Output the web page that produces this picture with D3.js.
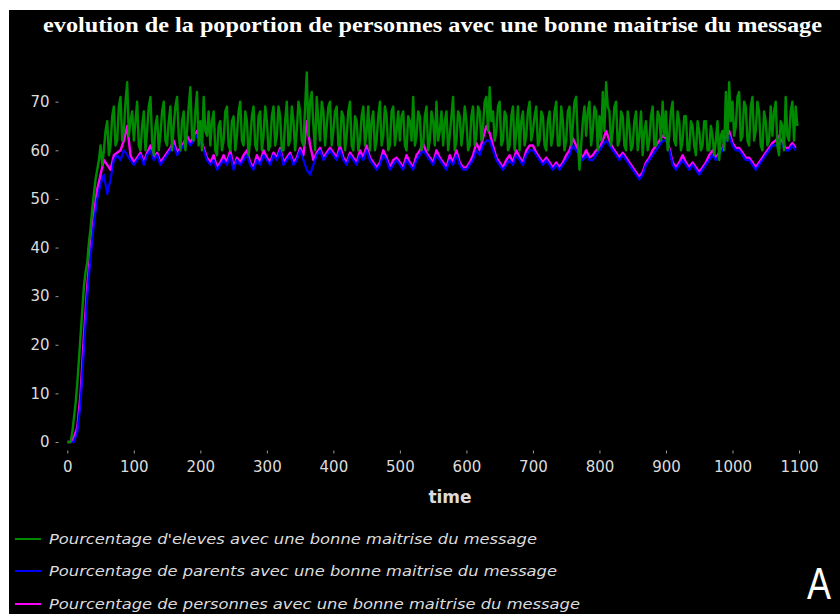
<!DOCTYPE html>
<html>
<head>
<meta charset="utf-8">
<script src="https://cdn.jsdelivr.net/npm/d3@7"></script>
<style>
  html, body { margin: 0; padding: 0; background: #ffffff; }
  svg { display: block; }
</style>
</head>
<body>
<script>
// ---------- DATA ----------
const title = "evolution de la poportion de personnes avec une bonne maitrise du message";
const xLabel = "time";
const xTicks = [0, 100, 200, 300, 400, 500, 600, 700, 800, 900, 1000, 1100];
const yTicks = [0, 10, 20, 30, 40, 50, 60, 70];
const seriesNames = [
  "Pourcentage d'eleves avec une bonne maitrise du message",
  "Pourcentage de parents avec une bonne maitrise du message",
  "Pourcentage de personnes avec une bonne maitrise du message"
];
const seriesColors = ["#008a00", "#0000ff", "#ff00ff"];
const timeStep = 5; // samples at t = 0, 5, 10, ... 1095

// students: values at t = 0, 5, 10, ...
const eleves = [
  0,0,5,12,22,32,37,44,51,56,61,60,66,61,69,62,71,64,74,66,
  62,70,60,68,64,71,59,67,63,70,61,69,65,71,60,68,64,73,62,72,
  66,71,63,61,68,59,66,62,69,60,67,63,70,61,66,62,69,60,68,63,
  66,61,69,63,67,60,70,62,66,64,68,61,76,70,65,71,62,68,65,70,
  64,69,61,67,63,70,60,66,62,69,64,60,68,62,70,63,67,61,69,64,
  62,68,60,66,71,63,67,61,69,62,66,70,64,61,68,63,71,62,67,64,
  66,61,69,63,68,65,71,73,68,64,70,62,67,61,69,64,60,68,63,70,
  64,69,62,67,60,68,63,70,61,66,62,69,65,71,56,66,63,70,64,68,
  67,72,74,68,64,70,62,67,60,65,61,68,63,59,66,62,69,61,67,70,
  68,63,70,61,66,62,67,60,65,59,64,61,66,60,63,62,58,64,72,74,
  70,65,72,63,69,61,71,64,68,60,66,62,63,70,59,65,71,62,70,69
];
// students: values at t = 2.5, 7.5, 12.5, ...
const elevesMid = [
  0,2,8,17,27,35,41,48,54,58,57,64,59,67,61,69,62,70,63,68,
  66,61,65,60,69,62,65,60,68,62,66,60,69,63,66,60,69,63,68,61,
  60,64,68,66,60,65,60,68,61,66,60,68,62,68,59,67,61,67,60,69,
  60,67,61,69,60,66,61,69,60,70,62,69,63,72,60,66,70,61,69,61,
  68,61,68,60,68,61,67,60,67,61,69,66,60,67,61,69,60,68,61,68,
  67,61,67,62,61,68,60,67,60,68,61,62,68,66,60,67,60,68,61,69,
  60,67,61,69,62,70,64,66,62,69,61,68,60,67,60,69,66,61,68,62,
  67,61,68,61,66,61,68,61,69,60,68,61,70,62,61,69,68,61,69,60,
  62,64,69,61,69,61,68,61,68,60,66,60,68,64,60,67,61,68,62,63,
  60,68,62,68,60,67,60,66,61,66,60,66,60,65,59,66,63,60,62,66,
  63,71,62,70,62,69,62,70,61,68,61,69,68,61,66,60,63,68,62,65
];
const parents = [
  0,0,0,2,8,19,30,38,45,50,53,55,51,54,58,59,58,60,59,58,
  57,58,59,57,59,60,58,59,57,58,59,60,61,59,60,61,62,61,62,63,
  62,60,58,57,58,56,57,58,57,59,56,58,57,58,59,57,56,58,57,59,
  58,57,59,58,60,57,58,59,57,58,60,58,56,55,57,59,60,58,59,60,
  59,58,60,58,57,59,58,57,59,58,60,58,57,56,57,59,58,56,57,58,
  57,56,58,57,56,58,59,60,59,58,57,59,58,57,56,58,57,59,57,56,
  56,57,58,60,59,61,62,62,60,58,57,56,57,58,57,59,58,57,59,60,
  60,59,58,57,58,57,56,57,56,57,58,59,61,60,59,58,59,58,58,59,
  60,61,62,61,60,59,58,59,58,57,56,55,54,55,57,58,59,60,61,62,
  62,60,57,56,57,58,57,56,57,56,55,56,57,58,59,58,59,60,62,63,
  61,60,60,59,58,58,57,56,57,58,59,60,61,61,62,61,60,60,61,60
];
const personnes = [
  0,0,1,3,10,22,32,40,47,52,55,58,57,56,59,59.5,60,62,65,59,
  57.5,58.5,59.5,57.5,59.5,61,58.5,59.5,57.5,58.5,59.5,60.5,62,59.5,60.5,61.5,63,61.5,63,64,
  62.5,60.5,58.5,57.5,59,56.5,57.5,59,57.5,60,56.5,58.5,57.5,59,60,57.5,56.5,59,57.5,60,
  58.5,57.5,59.5,58.5,60.5,57.5,58.5,59.5,57.5,58.5,60.5,59,66,61,58,59.5,60.5,58.5,59.5,60.5,
  59.5,58.5,61,58.5,57.5,59.5,58.5,57.5,60,58.5,61,58.5,57.5,56.5,57.5,60,58.5,56.5,58,58.5,
  57.5,56.5,59,57.5,56.5,59,60,61.5,59.5,58.5,57.5,60,58.5,57.5,56.5,59,57.5,60,57.5,56.5,
  56.5,57.5,59,61.5,60,62.5,65,63.5,61,58.5,57.5,56.5,58,59,57.5,60,58.5,57.5,60,61,
  61,59.5,58.5,57.5,58.5,57.5,56.5,57.5,56.5,57.5,59,60,62.5,61,59.5,58.5,60,58.5,59,60,
  60.5,62,64,62,60.5,59.5,58.5,59.5,58.5,57.5,56.5,55.5,54.5,55.5,57.5,58.5,60,61,62,63,
  62.5,60.5,57.5,56.5,57.5,59,57.5,56.5,57.5,56.5,55.5,56.5,57.5,59,60,58.5,59.5,60.5,62.5,64,
  61.5,60.5,60.5,59.5,58.5,58.5,57.5,56.5,57.5,58.5,59.5,60.5,61.5,62,63,61.5,60.5,60.5,61.5,60.5
];

// ---------- CHART ----------
const W = 840, H = 614;
const svg = d3.select("body").append("svg").attr("width", W).attr("height", H);

svg.append("rect").attr("x", 9).attr("y", 10).attr("width", W - 9).attr("height", H - 10).attr("fill", "#000");

svg.append("text")
  .attr("x", 43).attr("y", 32)
  .attr("fill", "#fff")
  .attr("font-family", "'Liberation Serif', 'DejaVu Serif', serif")
  .attr("font-weight", "bold")
  .attr("font-size", 22)
  .attr("textLength", 779)
  .attr("lengthAdjust", "spacingAndGlyphs")
  .text(title);

const x = d3.scaleLinear().domain([0, 1100]).range([67.3, 799]);
const y = d3.scaleLinear().domain([0, 70]).range([442, 101.7]);

const tickColor = "#9a9a9a";
const labelColor = "#dcdcdc";

// y axis
const yAxis = d3.axisLeft(y).tickValues(yTicks).tickSize(3).tickPadding(6).tickFormat(d3.format("d"));
const gy = svg.append("g").attr("transform", "translate(58.5,0)").call(yAxis);
gy.select(".domain").remove();
gy.selectAll(".tick line").attr("stroke", tickColor);
gy.selectAll(".tick text").attr("fill", labelColor).attr("font-size", 15)
  .attr("font-family", "'DejaVu Sans', sans-serif");

// x axis
const xAxis = d3.axisBottom(x).tickValues(xTicks).tickSize(3).tickPadding(8).tickFormat(d3.format("d"));
const gx = svg.append("g").attr("transform", "translate(0,450.5)").call(xAxis);
gx.select(".domain").remove();
gx.selectAll(".tick line").attr("stroke", tickColor);
gx.selectAll(".tick text").attr("fill", labelColor).attr("font-size", 15)
  .attr("font-family", "'DejaVu Sans', sans-serif");

svg.append("text")
  .attr("x", 450).attr("y", 503)
  .attr("text-anchor", "middle")
  .attr("fill", labelColor)
  .attr("font-family", "'DejaVu Sans', sans-serif")
  .attr("font-weight", "bold")
  .attr("font-size", 17)
  .text(xLabel);

// build point lists
const elevesPts = [];
eleves.forEach((v, i) => {
  elevesPts.push([i * timeStep, v]);
  if (i < elevesMid.length) elevesPts.push([i * timeStep + timeStep / 2, elevesMid[i]]);
});
const toPts = arr => arr.map((v, i) => [i * timeStep, v]);

const line = d3.line().x(d => x(d[0])).y(d => y(d[1]));
const drawOrder = [
  { data: toPts(personnes), color: seriesColors[2], w: 2.4 },
  { data: toPts(parents), color: seriesColors[1], w: 2.2 },
  { data: elevesPts, color: seriesColors[0], w: 2.4 }
];
drawOrder.forEach(s => {
  svg.append("path")
    .datum(s.data)
    .attr("fill", "none")
    .attr("stroke", s.color)
    .attr("stroke-width", s.w)
    .attr("stroke-linejoin", "round")
    .attr("d", line);
});

// legend
const legendY = [539, 571, 604];
const legendLen = [488, 508, 531];
seriesNames.forEach((name, i) => {
  svg.append("line")
    .attr("x1", 15).attr("x2", 41)
    .attr("y1", legendY[i]).attr("y2", legendY[i])
    .attr("stroke", seriesColors[i]).attr("stroke-width", 2);
  svg.append("text")
    .attr("x", 49).attr("y", legendY[i] + 5)
    .attr("fill", labelColor)
    .attr("font-family", "'DejaVu Sans', sans-serif")
    .attr("font-style", "italic")
    .attr("font-size", 14)
    .attr("textLength", legendLen[i])
    .attr("lengthAdjust", "spacingAndGlyphs")
    .text(name);
});

// panel letter
svg.append("text")
  .attr("x", 807).attr("y", 599)
  .attr("fill", "#fff")
  .attr("font-family", "'Liberation Sans', sans-serif")
  .attr("font-size", 44)
  .attr("textLength", 24)
  .attr("lengthAdjust", "spacingAndGlyphs")
  .text("A");
</script>
</body>
</html>
